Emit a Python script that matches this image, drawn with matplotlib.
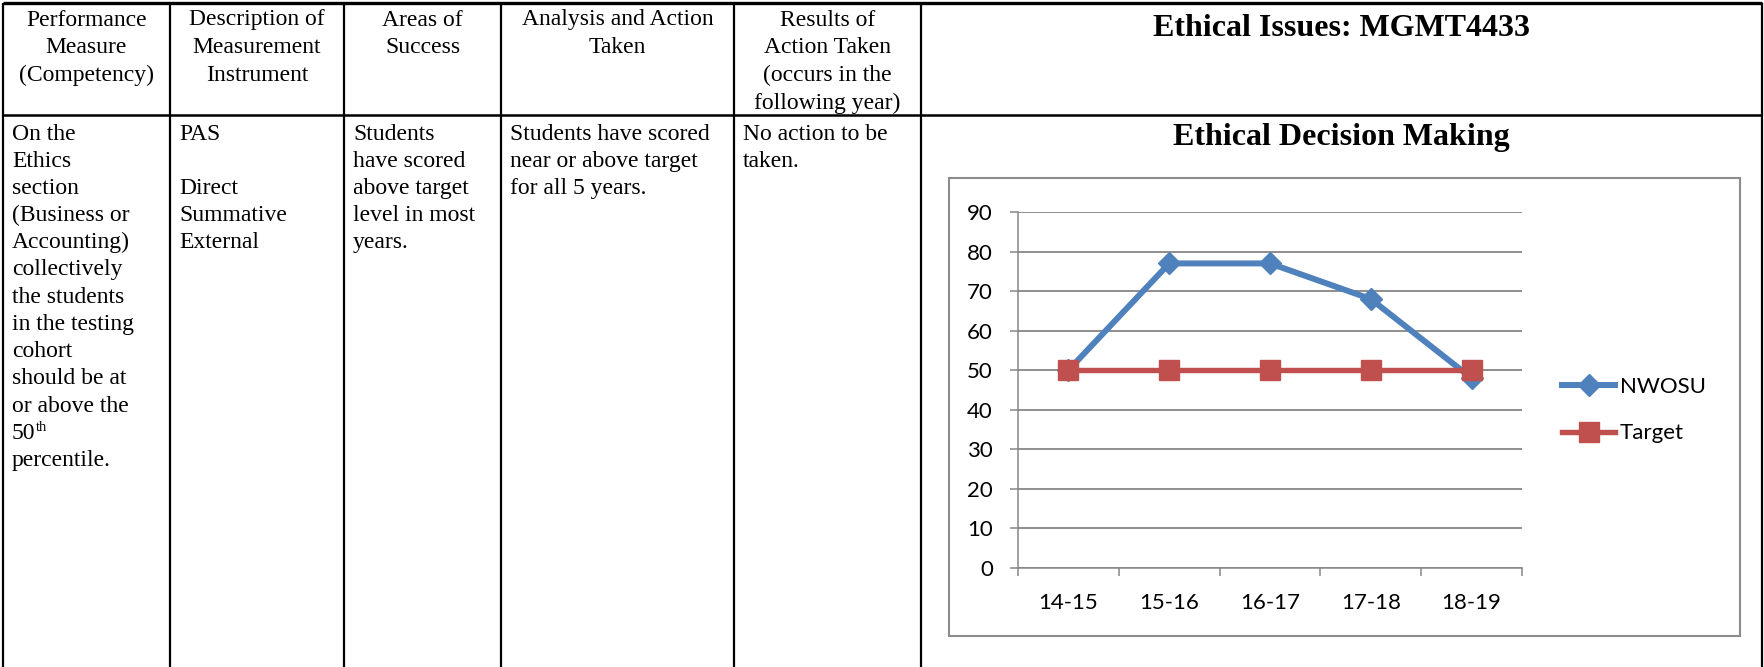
import matplotlib
matplotlib.use("Agg")
import matplotlib.pyplot as plt
from matplotlib.patches import Rectangle

# Assessment figures for the ethics section
categories = ["14-15", "15-16", "16-17", "17-18", "18-19"]
nwosu = [50, 77, 77, 68, 48]
target = [50, 50, 50, 50, 50]
y_ticks = [0, 10, 20, 30, 40, 50, 60, 70, 80, 90]

page_title = "Ethical Issues: MGMT4433"
chart_title = "Ethical Decision Making"

header_cells = [
    ["Performance", "Measure", "(Competency)"],
    ["Description of", "Measurement", "Instrument"],
    ["Areas of", "Success"],
    ["Analysis and Action", "Taken"],
    ["Results of", "Action Taken", "(occurs in the", "following year)"],
]
body_cells = [
    ["On the", "Ethics", "section", "(Business or", "Accounting)", "collectively",
     "the students", "in the testing", "cohort", "should be at", "or above the",
     "50", "percentile."],
    ["PAS", "", "Direct", "Summative", "External"],
    ["Students", "have scored", "above target", "level in most", "years."],
    ["Students have scored", "near or above target", "for all 5 years."],
    ["No action to be", "taken."],
]

W, H = 1765, 667
fig = plt.figure(figsize=(W / 100, H / 100), dpi=100)

# page layer in pixel units, y pointing down
bg = fig.add_axes([0, 0, 1, 1])
bg.set_xlim(0, W)
bg.set_ylim(H, 0)
bg.axis("off")

serif = "Liberation Serif"
col_edges = [3, 170, 344, 501, 734, 921, 1762]

# table rules
bg.plot([3, 1762], [3, 3], color="black", lw=2.4, solid_capstyle="butt")
bg.plot([3, 1762], [115, 115], color="black", lw=1.8, solid_capstyle="butt")
for x in col_edges:
    bg.plot([x, x], [3, H], color="black", lw=1.6, solid_capstyle="butt")

# header row, centred
for i, lines in enumerate(header_cells):
    cx = (col_edges[i] + col_edges[i + 1]) / 2
    for j, txt in enumerate(lines):
        bg.text(cx, 20 + j * 27.8, txt, ha="center", va="center",
                family=serif, fontsize=17)

# body row, left aligned
for i, lines in enumerate(body_cells):
    x0 = col_edges[i] + 9
    for j, txt in enumerate(lines):
        y = 134 + j * 27.2
        bg.text(x0, y, txt, ha="left", va="center", family=serif, fontsize=17)
        if txt == "50":
            bg.text(x0 + 24, y - 6, "th", ha="left", va="center",
                    family=serif, fontsize=10.5)

# chart cell titles
cx = (col_edges[5] + col_edges[6]) / 2
bg.text(cx, 28, page_title, ha="center", va="center", family=serif,
        fontsize=23, fontweight="bold")
bg.text(cx, 138, chart_title, ha="center", va="center", family=serif,
        fontsize=23, fontweight="bold")

# chart frame
bg.add_patch(Rectangle((949, 178), 1740 - 949, 636 - 178, fill=False,
                       edgecolor="#8c8c8c", lw=1.5))

# line chart
grey = "#868686"
ax = fig.add_axes([1018 / W, (H - 568) / H, (1522 - 1018) / W, (568 - 212) / H])
x = list(range(len(categories)))
ax.plot(x, nwosu, color="#4F81BD", lw=4.3, marker="D", ms=11,
        label="NWOSU", zorder=3)
ax.plot(x, target, color="#C0504D", lw=3.9, marker="s", ms=14,
        label="Target", zorder=4)

ax.set_xlim(-0.5, len(categories) - 0.5)
ax.set_ylim(0, 90)
ax.set_yticks(y_ticks)
ax.set_yticklabels([str(v) for v in y_ticks])
ax.set_xticks([i - 0.5 for i in range(len(categories) + 1)])
ax.set_xticklabels([])
ax.set_xticks(x, minor=True)
ax.set_xticklabels(categories, minor=True)
ax.tick_params(axis="x", which="major", length=6, width=1.1, color=grey)
ax.tick_params(axis="x", which="minor", length=0, pad=18)
ax.tick_params(axis="y", which="major", length=6, width=1.1, color=grey, pad=12)
for lab in ax.get_xticklabels(minor=True) + ax.get_yticklabels():
    lab.set_family("Lato")
    lab.set_fontsize(16)
ax.grid(axis="y", color=grey, lw=1.3)
ax.set_axisbelow(True)
for side in ("top", "right"):
    ax.spines[side].set_visible(False)
for side in ("left", "bottom"):
    ax.spines[side].set_color(grey)
    ax.spines[side].set_linewidth(1.1)

leg = ax.legend(loc="center left", bbox_to_anchor=(1562 / W, (H - 410) / H),
                bbox_transform=fig.transFigure, frameon=False,
                prop={"family": "Lato", "size": 16}, handlelength=2.4,
                handletextpad=0.2, labelspacing=1.2, borderpad=0,
                borderaxespad=0, numpoints=1)

fig.savefig("out.png", dpi=100)
